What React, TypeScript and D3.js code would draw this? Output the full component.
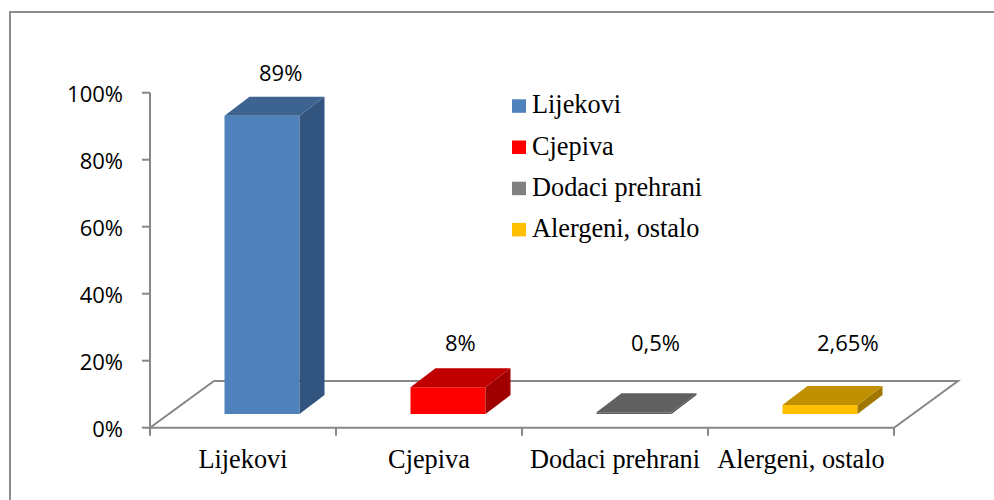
import React from 'react';
import { scaleBand, scaleLinear, range } from 'd3';

const categories = ['Lijekovi', 'Cjepiva', 'Dodaci prehrani', 'Alergeni, ostalo'];
const values = [0.89, 0.08, 0.005, 0.0265];
const valueLabels = ['89%', '8%', '0,5%', '2,65%'];
const yTicks = [0, 0.2, 0.4, 0.6, 0.8, 1];
const yTickLabels = ['0%', '20%', '40%', '60%', '80%', '100%'];

// face colours: front, top, side; legend uses the swatch colour
const frontColors = ['#4F81BD', '#FF0000', '#606060', '#FFC000'];
const topColors = ['#3D6491', '#C00000', '#606060', '#C09000'];
const sideColors = ['#32557F', '#A00000', '#505050', '#A07800'];
const legendColors = ['#4F81BD', '#FF0000', '#808080', '#FFC000'];

const W = 994;
const H = 500;

export default function App() {
  // plot area
  const x = scaleBand<string>().domain(categories).range([150, 894]).padding(0);
  const y = scaleLinear().domain([0, 1]).range([427.7, 92.7]);

  // floor depth and where the bars sit inside it
  const floorDx = 64;
  const floorDy = -46.7;
  const barOffX = 19;
  const barOffY = -13.7;
  const barDx = 25;
  const barDy = -19;
  const barW = 75;

  const y0 = y(0);
  const xLeft = x.range()[0];
  const xRight = x.range()[1];

  const floorPts = [
    [xLeft, y0],
    [xRight, y0],
    [xRight + floorDx, y0 + floorDy],
    [xLeft + floorDx, y0 + floorDy],
  ];

  const pts = (p: number[][]) => p.map((d) => d.join(',')).join(' ');

  const sans = "'Open Sans', sans-serif";
  const serif = "'Liberation Serif', 'Times New Roman', serif";
  const axisColor = '#878787';

  return (
    <div style={{ position: 'absolute', left: 0, top: 0 }}>
      <svg width={W} height={H} style={{ display: 'block', background: '#fff' }}>
        {/* chart border */}
        <rect x={10} y={12} width={W} height={H} fill="none" stroke="#8c8c8c" strokeWidth={2} />

        {/* floor */}
        <polygon points={pts(floorPts)} fill="none" stroke={axisColor} strokeWidth={2} />

        {/* y axis */}
        <line x1={xLeft} x2={xLeft} y1={y(1)} y2={y0 + 0.5} stroke={axisColor} strokeWidth={2} />
        {yTicks.map((t, i) => (
          <g key={'yt' + i}>
            <line x1={xLeft - 8} x2={xLeft} y1={y(t)} y2={y(t)} stroke={axisColor} strokeWidth={2} />
            <text
              x={123}
              y={y(t)}
              textAnchor="end"
              dominantBaseline="central"
              fontFamily={sans}
              fontSize={22}
              fill="#000"
            >
              {yTickLabels[i]}
            </text>
          </g>
        ))}

        {/* x axis ticks */}
        {range(categories.length + 1).map((i) => {
          const xx = xLeft + i * x.bandwidth();
          return (
            <line key={'xt' + i} x1={xx} x2={xx} y1={y0} y2={y0 + 8} stroke={axisColor} strokeWidth={2} />
          );
        })}

        {/* bars */}
        {categories.map((c, i) => {
          const cx = (x(c) as number) + x.bandwidth() / 2;
          const x0 = cx - barW / 2 + barOffX;
          const yb = y0 + barOffY;
          const yt = y(values[i]) + barOffY;
          const front = [
            [x0, yt],
            [x0 + barW, yt],
            [x0 + barW, yb],
            [x0, yb],
          ];
          const top = [
            [x0, yt],
            [x0 + barW, yt],
            [x0 + barW + barDx, yt + barDy],
            [x0 + barDx, yt + barDy],
          ];
          const side = [
            [x0 + barW, yt],
            [x0 + barW + barDx, yt + barDy],
            [x0 + barW + barDx, yb + barDy],
            [x0 + barW, yb],
          ];
          const backTop = yt + barDy;
          const labelY = Math.min(backTop - 16, y0 + floorDy - 30);
          return (
            <g key={c}>
              <polygon points={pts(front)} fill={frontColors[i]} />
              <polygon points={pts(side)} fill={sideColors[i]} />
              <polygon points={pts(top)} fill={topColors[i]} />
              <text x={x0 + barW / 2 - 3} y={labelY} fontFamily={sans} fontSize={22} fill="#000">
                {valueLabels[i]}
              </text>
            </g>
          );
        })}

        {/* category labels */}
        {categories.map((c) => (
          <text
            key={'cl' + c}
            x={(x(c) as number) + x.bandwidth() / 2}
            y={467.7}
            textAnchor="middle"
            fontFamily={serif}
            fontSize={26.3}
            fill="#000"
          >
            {c}
          </text>
        ))}

        {/* legend */}
        {categories.map((c, i) => {
          const by = 113.3 + i * 41.2;
          return (
            <g key={'lg' + c}>
              <rect x={512} y={by - 14} width={14} height={13.5} fill={legendColors[i]} />
              <text x={532} y={by} fontFamily={serif} fontSize={26.3} fill="#000">
                {c}
              </text>
            </g>
          );
        })}
      </svg>
    </div>
  );
}
